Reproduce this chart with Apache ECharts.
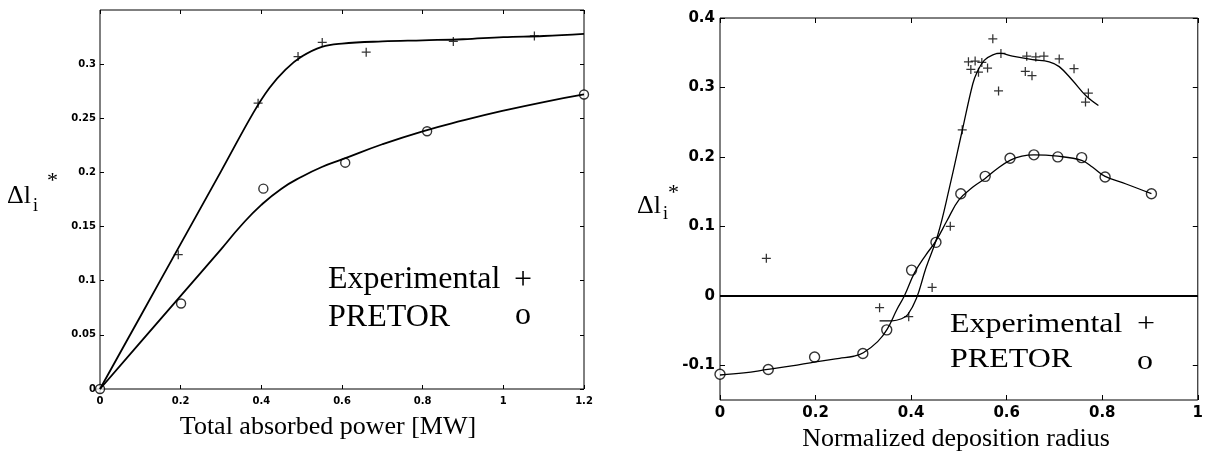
<!DOCTYPE html>
<html>
<head>
<meta charset="utf-8">
<script src="https://cdn.jsdelivr.net/npm/echarts@6/dist/echarts.min.js"></script>
<style>
  html, body { margin: 0; padding: 0; background: #fff; }
  #chart { width: 1206px; height: 457px; }
</style>
</head>
<body>
<div id="chart"></div>
<script>
// ---- Left panel: change of internal inductance vs total absorbed power ----
const powerExperimental = [[0, 0], [0.194, 0.124], [0.392, 0.264], [0.491, 0.307], [0.551, 0.320],
  [0.66, 0.311], [0.876, 0.321], [1.077, 0.326]];
const powerPretor = [[0, 0], [0.201, 0.079], [0.405, 0.185], [0.608, 0.209], [0.811, 0.238], [1.2, 0.272]];
const powerExperimentalFit = [[0, 0], [0.1, 0.067], [0.2, 0.134], [0.3, 0.201], [0.38, 0.255], [0.42, 0.278],
  [0.46, 0.295], [0.5, 0.307], [0.55, 0.316], [0.6, 0.319], [0.7, 0.321], [0.8, 0.322], [0.9, 0.323],
  [1.0, 0.325], [1.1, 0.326], [1.2, 0.328]];
const powerPretorFit = [[0, 0], [0.1, 0.043], [0.2, 0.086], [0.3, 0.129], [0.35, 0.151], [0.4, 0.170],
  [0.45, 0.185], [0.5, 0.196], [0.55, 0.205], [0.6, 0.212], [0.7, 0.226], [0.8, 0.238], [0.9, 0.248],
  [1.0, 0.257], [1.1, 0.265], [1.2, 0.272]];

// ---- Right panel: change of internal inductance vs normalized deposition radius ----
const radiusExperimental = [[0.097, 0.054], [0.334, -0.017], [0.395, -0.030], [0.444, 0.012], [0.482, 0.100],
  [0.507, 0.239], [0.520, 0.337], [0.525, 0.326], [0.534, 0.338], [0.541, 0.322], [0.548, 0.336],
  [0.560, 0.328], [0.571, 0.370], [0.583, 0.295], [0.588, 0.349], [0.639, 0.323], [0.642, 0.345],
  [0.653, 0.317], [0.661, 0.344], [0.678, 0.345], [0.710, 0.341], [0.741, 0.327], [0.765, 0.279],
  [0.771, 0.292]];
const radiusPretor = [[0, -0.113], [0.101, -0.106], [0.198, -0.088], [0.299, -0.083], [0.349, -0.049],
  [0.401, 0.037], [0.452, 0.077], [0.504, 0.147], [0.555, 0.172], [0.607, 0.198], [0.657, 0.203],
  [0.707, 0.200], [0.757, 0.199], [0.806, 0.171], [0.903, 0.147]];
const radiusExperimentalFit = [[0.334, -0.036], [0.36, -0.036], [0.38, -0.033], [0.393, -0.027],
  [0.411, -0.004], [0.431, 0.040], [0.456, 0.088], [0.48, 0.155], [0.507, 0.238], [0.529, 0.305],
  [0.538, 0.322], [0.553, 0.339], [0.571, 0.347], [0.587, 0.349], [0.612, 0.345], [0.654, 0.340],
  [0.689, 0.337], [0.71, 0.330], [0.738, 0.310], [0.766, 0.288], [0.792, 0.274]];
const radiusPretorFit = [[0, -0.114], [0.05, -0.111], [0.1, -0.106], [0.15, -0.101], [0.2, -0.095],
  [0.25, -0.090], [0.28, -0.087], [0.3, -0.082], [0.33, -0.066], [0.35, -0.048], [0.37, -0.020],
  [0.386, 0.0], [0.407, 0.033], [0.43, 0.058], [0.452, 0.079], [0.475, 0.108], [0.5, 0.138],
  [0.53, 0.157], [0.555, 0.169], [0.58, 0.183], [0.607, 0.195], [0.632, 0.201], [0.657, 0.203],
  [0.707, 0.201], [0.757, 0.195], [0.78, 0.185], [0.806, 0.172], [0.85, 0.161], [0.903, 0.147]];

const radiusTickValues = [-0.1, 0, 0.1, 0.2, 0.3, 0.4];

const SERIF = '"Liberation Serif", "Times New Roman", serif';
const TICK_FONT = '"DejaVu Sans", sans-serif';
const PLUS = 'path://M-1,-0.14 L-0.14,-0.14 L-0.14,-1 L0.14,-1 L0.14,-0.14 L1,-0.14 L1,0.14 L0.14,0.14 L0.14,1 L-0.14,1 L-0.14,0.14 L-1,0.14 Z';

const fmt = v => String(parseFloat(Number(v).toFixed(2)));

function valueAxis(extra, labelSize, labelMargin, tickLen) {
  return Object.assign({
    type: 'value',
    axisLine: { show: false, onZero: false },
    splitLine: { show: false },
    axisTick: { show: true, inside: true, length: tickLen, lineStyle: { color: '#000', width: 1 } },
    axisLabel: {
      color: '#000', fontFamily: TICK_FONT, fontWeight: 'bold', fontSize: labelSize,
      margin: labelMargin, formatter: fmt
    }
  }, extra);
}

function mirrorAxis(base, position) {
  const a = JSON.parse(JSON.stringify(base));
  a.position = position;
  a.axisLabel = { show: false };
  return a;
}

function text(x, y, str, size, align, extra) {
  return Object.assign({
    type: 'text', x: x, y: y, silent: true,
    style: {
      text: str, font: size + 'px ' + SERIF, fill: '#000',
      textAlign: align, align: align, textVerticalAlign: 'middle', verticalAlign: 'middle'
    }
  }, extra || {});
}

const lx0 = valueAxis({ gridIndex: 0, min: 0, max: 1.2, interval: 0.2 }, 10, 7, 4);
const ly0 = valueAxis({ gridIndex: 0, min: 0, max: 0.35, interval: 0.05 }, 10, 4, 4);
ly0.axisLabel.showMaxLabel = false;
const rx0 = valueAxis({ gridIndex: 1, min: 0, max: 1, interval: 0.2 }, 15, 6, 5);
const ry0 = valueAxis({ gridIndex: 1, min: -0.15, max: 0.4 }, 15, 5, 5);
ry0.axisLabel.customValues = radiusTickValues;
ry0.axisTick.customValues = radiusTickValues;

const plusStyle = { color: '#000' };
const circleStyle = { color: '#fff', borderColor: '#000', borderWidth: 1.4 };

const option = {
  animation: false,
  backgroundColor: '#fff',
  grid: [
    { left: 100, top: 10, width: 484, height: 379, show: true, borderColor: '#000', borderWidth: 1, backgroundColor: 'transparent' },
    { left: 720, top: 18, width: 479, height: 382, show: true, borderColor: '#000', borderWidth: 1, backgroundColor: 'transparent' }
  ],
  xAxis: [lx0, mirrorAxis(lx0, 'top'), rx0, mirrorAxis(rx0, 'top')],
  yAxis: [ly0, mirrorAxis(ly0, 'right'), ry0, mirrorAxis(ry0, 'right')],
  series: [
    { type: 'line', xAxisIndex: 0, yAxisIndex: 0, data: powerExperimentalFit, smooth: 0.4, showSymbol: false,
      lineStyle: { color: '#000', width: 1.8 } },
    { type: 'line', xAxisIndex: 0, yAxisIndex: 0, data: powerPretorFit, smooth: 0.5, showSymbol: false,
      lineStyle: { color: '#000', width: 1.8 } },
    { type: 'scatter', xAxisIndex: 0, yAxisIndex: 0, data: powerExperimental, symbol: PLUS, symbolSize: 9,
      itemStyle: plusStyle },
    { type: 'scatter', xAxisIndex: 0, yAxisIndex: 0, data: powerPretor, symbol: 'circle', symbolSize: 9,
      itemStyle: circleStyle },

    { type: 'line', xAxisIndex: 2, yAxisIndex: 2, data: radiusPretorFit, smooth: 0.4, showSymbol: false,
      lineStyle: { color: '#000', width: 1.3 },
      markLine: { silent: true, symbol: ['none', 'none'], label: { show: false },
        lineStyle: { color: '#000', width: 2, type: 'solid' }, data: [{ yAxis: 0 }] } },
    { type: 'line', xAxisIndex: 2, yAxisIndex: 2, data: radiusExperimentalFit, smooth: 0.4, showSymbol: false,
      lineStyle: { color: '#000', width: 1.3 } },
    { type: 'scatter', xAxisIndex: 2, yAxisIndex: 2, data: radiusExperimental, symbol: PLUS, symbolSize: 9,
      itemStyle: plusStyle },
    { type: 'scatter', xAxisIndex: 2, yAxisIndex: 2, data: radiusPretor, symbol: 'circle', symbolSize: 10,
      itemStyle: circleStyle }
  ],
  graphic: [
    // left panel labels
    text(7, 196, 'Δl', 26, 'left'),
    text(33, 206, 'i', 18, 'left'),
    text(47, 181, '*', 22, 'left'),
    text(328, 427, 'Total absorbed power [MW]', 26, 'center'),
    text(328, 280, 'Experimental', 32, 'left'),
    text(523, 281, '+', 32, 'center'),
    text(328, 318, 'PRETOR', 32, 'left'),
    text(523, 316, 'o', 32, 'center'),
    // right panel labels
    text(637, 206, 'Δl', 26, 'left'),
    text(663, 214, 'i', 18, 'left'),
    text(668, 193, '*', 22, 'left'),
    text(956, 439, 'Normalized deposition radius', 26, 'center'),
    text(950, 325, 'Experimental', 32, 'left', { scaleY: 0.88 }),
    text(1146, 325, '+', 32, 'center', { scaleY: 0.88 }),
    text(950, 360, 'PRETOR', 32, 'left', { scaleY: 0.88 }),
    text(1145, 362, 'o', 32, 'center', { scaleY: 0.88 })
  ]
};

const chart = echarts.init(document.getElementById('chart'), null, { renderer: 'canvas' });
chart.setOption(option);
</script>
</body>
</html>
